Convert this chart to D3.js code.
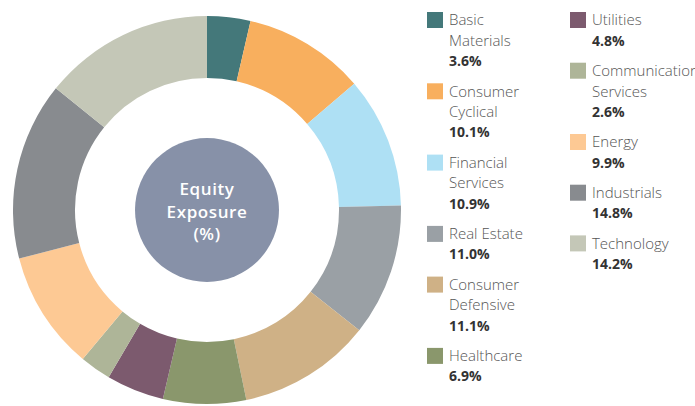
<!DOCTYPE html>
<html>
<head>
<meta charset="utf-8">
<script src="https://cdn.jsdelivr.net/npm/d3@7"></script>
<style>
  body { margin: 0; background: #fff; }
  svg { display: block; font-family: "Open Sans", "Noto Sans", sans-serif; }
</style>
</head>
<body>
<svg id="chart" width="695" height="406"></svg>
<script>
const sectors = ["Basic Materials", "Consumer Cyclical", "Financial Services", "Real Estate",
  "Consumer Defensive", "Healthcare", "Utilities", "Communication Services", "Energy",
  "Industrials", "Technology"];
const weights = [3.6, 10.1, 10.9, 11.0, 11.1, 6.9, 4.8, 2.6, 9.9, 14.8, 14.2];
const colors = ["#44787a", "#f8af5e", "#aee0f4", "#9aa0a5", "#cfb186", "#8a976c",
  "#7c5a6e", "#aeb598", "#fdc994", "#888b8f", "#c4c7b7"];
const centerLines = ["Equity", "Exposure", "(%)"];

const svg = d3.select("#chart");
const cx = 207, cy = 210;

const pie = d3.pie().sort(null).value(d => d.value);
const arc = d3.arc().innerRadius(132).outerRadius(194);
const data = sectors.map((s, i) => ({name: s, value: weights[i], color: colors[i]}));

const g = svg.append("g").attr("transform", `translate(${cx},${cy})`);
g.selectAll("path")
  .data(pie(data))
  .enter()
  .append("path")
  .attr("d", arc)
  .attr("fill", d => d.data.color);

// center badge
g.append("circle").attr("r", 72).attr("fill", "#8791a8");
g.selectAll(".ctext")
  .data(centerLines)
  .enter()
  .append("text")
  .attr("class", "ctext")
  .attr("text-anchor", "middle")
  .attr("y", (d, i) => -15 + i * 22.5)
  .attr("fill", "#fff")
  .attr("font-size", 17)
  .attr("font-weight", 600)
  .attr("letter-spacing", 0.6)
  .text(d => d);

// legend
const lineH = 20.6, gap = 9.5;
const cols = [{x: 427, items: data.slice(0, 6)}, {x: 570, items: data.slice(6)}];

function wrapWords(name, maxW, probe) {
  const words = name.split(" ");
  const lines = [];
  let cur = "";
  words.forEach(w => {
    const test = cur ? cur + " " + w : w;
    probe.text(test);
    if (cur && probe.node().getComputedTextLength() > maxW) {
      lines.push(cur);
      cur = w;
    } else {
      cur = test;
    }
  });
  lines.push(cur);
  return lines;
}

const probe = svg.append("text").attr("font-size", 15).attr("font-weight", 300);

cols.forEach(col => {
  let y = 20;
  col.items.forEach(item => {
    const lines = wrapWords(item.name, 92, probe);
    const lg = svg.append("g");
    lg.append("rect")
      .attr("x", col.x).attr("y", y - 8)
      .attr("width", 16).attr("height", 16)
      .attr("fill", item.color);
    lines.forEach((ln, i) => {
      lg.append("text")
        .attr("x", col.x + 22).attr("y", y + i * lineH)
        .attr("dy", "0.35em")
        .attr("font-size", 15).attr("font-weight", 300)
        .attr("fill", "#555")
        .text(ln);
    });
    lg.append("text")
      .attr("x", col.x + 22).attr("y", y + lines.length * lineH)
      .attr("dy", "0.35em")
      .attr("font-size", 14).attr("font-weight", 700)
      .attr("fill", "#333")
      .text(item.value.toFixed(1) + "%");
    y += (lines.length + 1) * lineH + gap;
  });
});
probe.remove();
</script>
</body>
</html>
